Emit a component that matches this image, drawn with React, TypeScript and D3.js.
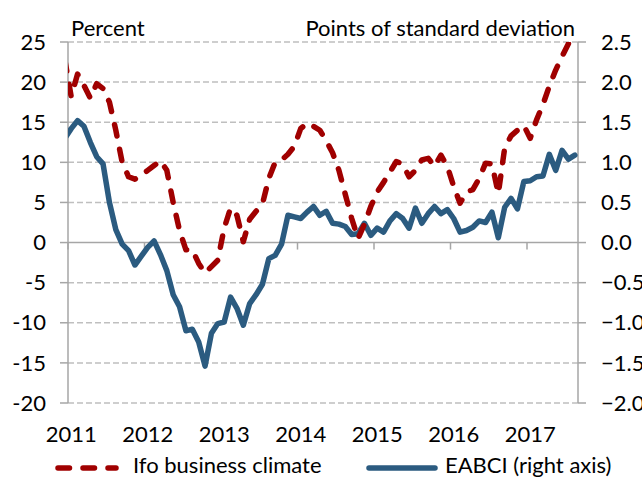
import React from "react";
import * as d3 from "d3";

// month index: -1 = Dec 2010, 0 = Jan 2011 ... 79 = Aug 2017
const monthIndex = d3.range(-1, 80);

// Ifo business climate, percent (left axis)
const ifoClimate = [
  22.8,
  18.2, 21.0, 19.6, 18.0, 19.8, 19.2, 17.5, 14.0, 10.0, 8.2, 7.9, 8.4,
  9.0, 9.6, 10.2, 9.0, 5.0, 1.5, -0.9, -0.9, -2.6, -3.8, -3.0, -2.2,
  1.8, 4.3, 3.4, 0.1, 2.9, 3.9, 4.8, 8.0, 10.0, 10.3, 11.0, 12.0,
  14.2, 14.9, 14.5, 14.0, 12.7, 11.2, 9.0, 6.0, 3.0, 0.5, 2.3, 4.5,
  6.3, 7.5, 8.8, 10.1, 9.8, 8.2, 9.0, 10.3, 10.5, 9.5, 10.9, 9.5,
  7.0, 4.9, 6.3, 6.6, 8.0, 9.9, 9.8, 6.1, 11.8, 13.3, 14.0, 14.6,
  13.0, 15.3, 17.2, 19.5, 21.5, 23.2, 24.8, 26.0,
];

// EABCI, points of standard deviation (right axis)
const eabci = [
  1.3,
  1.42, 1.52, 1.45, 1.25, 1.07, 0.98, 0.5, 0.16, -0.02, -0.1, -0.28, -0.17,
  -0.06, 0.02, -0.15, -0.35, -0.65, -0.8, -1.1, -1.08, -1.24, -1.54, -1.13, -1.01,
  -0.99, -0.68, -0.82, -1.03, -0.76, -0.65, -0.52, -0.2, -0.16, -0.02, 0.34, 0.32,
  0.3, 0.38, 0.45, 0.34, 0.39, 0.24, 0.23, 0.2, 0.1, 0.11, 0.24, 0.09,
  0.18, 0.13, 0.27, 0.36, 0.3, 0.18, 0.43, 0.24, 0.36, 0.45, 0.36, 0.41,
  0.3, 0.13, 0.15, 0.19, 0.27, 0.25, 0.38, 0.06, 0.44, 0.55, 0.42, 0.76,
  0.77, 0.82, 0.83, 1.1, 0.9, 1.15, 1.04, 1.09,
];

const years = ["2011", "2012", "2013", "2014", "2015", "2016", "2017"];
const leftTicks = [-20, -15, -10, -5, 0, 5, 10, 15, 20, 25];
const rightTicks = [-2, -1.5, -1, -0.5, 0, 0.5, 1, 1.5, 2, 2.5];

const RED = "#a00000";
const BLUE = "#2b5b80";
const AXIS = "#a6a6a6";
const GRID = "#bfbfbf";
const FONT = "Lato, 'Open Sans', sans-serif";
const FS = 22;

export default function App() {
  const width = 642;
  const height = 478;
  const plot = { left: 68, right: 578, top: 42, bottom: 403 };

  const x = d3.scaleLinear().domain([0, 80]).range([plot.left, plot.right]);
  const yL = d3.scaleLinear().domain([-20, 25]).range([plot.bottom, plot.top]);
  const yR = d3.scaleLinear().domain([-2, 2.5]).range([plot.bottom, plot.top]);

  const ifoLine = d3
    .line<number>()
    .x((_, k) => x(monthIndex[k] + 0.5))
    .y((d) => yL(d));
  const eabciLine = d3
    .line<number>()
    .x((_, k) => x(monthIndex[k] + 0.5))
    .y((d) => yR(d));

  const fmtR = d3.format(".1f");

  return (
    <svg
      width={width}
      height={height}
      style={{ position: "absolute", left: 0, top: 0, background: "#fff" }}
      fontFamily={FONT}
    >
      <defs>
        <clipPath id="plot-clip">
          <rect
            x={plot.left}
            y={plot.top}
            width={plot.right - plot.left}
            height={plot.bottom - plot.top}
          />
        </clipPath>
      </defs>

      {/* gridlines + tick marks */}
      {leftTicks.map((v) => (
        <g key={v}>
          {v !== 0 && (
            <line
              x1={plot.left}
              x2={plot.right}
              y1={yL(v)}
              y2={yL(v)}
              stroke={GRID}
              strokeWidth={1.5}
              strokeDasharray="6 3"
            />
          )}
          <line x1={plot.left - 8} x2={plot.left} y1={yL(v)} y2={yL(v)} stroke={AXIS} strokeWidth={1.5} />
          <line x1={plot.right} x2={plot.right + 8} y1={yL(v)} y2={yL(v)} stroke={AXIS} strokeWidth={1.5} />
        </g>
      ))}

      {/* axes */}
      <line x1={plot.left} x2={plot.left} y1={plot.top} y2={plot.bottom} stroke={AXIS} strokeWidth={1.5} />
      <line x1={plot.right} x2={plot.right} y1={plot.top} y2={plot.bottom} stroke={AXIS} strokeWidth={1.5} />
      <line x1={plot.left} x2={plot.right} y1={yL(0)} y2={yL(0)} stroke={AXIS} strokeWidth={1.5} />
      {years.map((_, k) => (
        <line
          key={k}
          x1={x(k * 12)}
          x2={x(k * 12)}
          y1={yL(0)}
          y2={yL(0) + 7}
          stroke={AXIS}
          strokeWidth={1.5}
        />
      ))}

      {/* series */}
      <g clipPath="url(#plot-clip)">
        <path d={eabciLine(eabci) || ""} fill="none" stroke={BLUE} strokeWidth={5.5} strokeLinejoin="round" strokeLinecap="round" />
        <path
          d={ifoLine(ifoClimate) || ""}
          fill="none"
          stroke={RED}
          strokeWidth={5.5}
          strokeLinejoin="round"
          strokeLinecap="round"
          strokeDasharray="11.5 13.5"
        />
      </g>

      {/* tick labels */}
      {leftTicks.map((v) => (
        <text key={v} x={46} y={yL(v)} dy="0.35em" textAnchor="end" fontSize={FS} fill="#000">
          {v}
        </text>
      ))}
      {rightTicks.map((v) => (
        <text key={v} x={601} y={yR(v)} dy="0.35em" textAnchor="start" fontSize={FS} fill="#000">
          {fmtR(v)}
        </text>
      ))}
      {years.map((yr, k) => (
        <text key={yr} x={x(k * 12 + 0.5)} y={442} textAnchor="middle" fontSize={FS} fill="#000">
          {yr}
        </text>
      ))}

      {/* axis titles */}
      <text x={71} y={36} fontSize={FS} fill="#000">
        Percent
      </text>
      <text x={575} y={36} textAnchor="end" fontSize={FS} fill="#000">
        Points of standard deviation
      </text>

      {/* legend */}
      <line x1={58} x2={116} y1={468} y2={468} stroke={RED} strokeWidth={5.5} strokeLinecap="round" strokeDasharray="11.5 13.5" />
      <text x={133} y={473} fontSize={FS} fill="#000">
        Ifo business climate
      </text>
      <line x1={369} x2={435} y1={468} y2={468} stroke={BLUE} strokeWidth={5.5} strokeLinecap="round" />
      <text x={445} y={473} fontSize={FS} fill="#000">
        EABCI (right axis)
      </text>
    </svg>
  );
}
